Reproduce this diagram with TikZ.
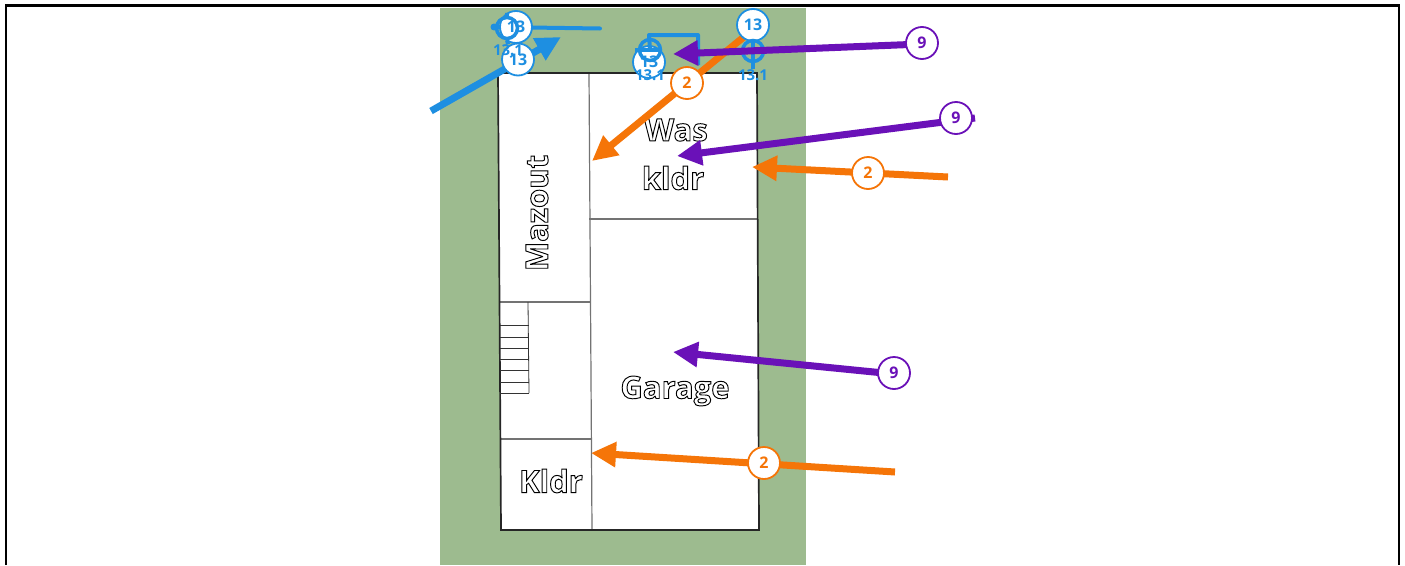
\documentclass[tikz,border=0pt]{standalone}
\usepackage{fontspec}
\setmainfont{Open Sans}
\usetikzlibrary{arrows.meta}
\definecolor{lawn}{HTML}{9DBB8F}
\definecolor{bluec}{HTML}{1E8FE1}
\definecolor{orangec}{HTML}{F57508}
\definecolor{purplec}{HTML}{6A11B8}
\newcommand{\outl}[1]{\special{pdf:code q 1 Tr 0.95 w}#1\special{pdf:code Q}}
\tikzset{
  x=1pt,y=-1pt,
  wall/.style={draw=black!55,line width=1.2pt},
  outer/.style={draw=black!85,line width=1.7pt},
  tread/.style={draw=black!80,line width=.8pt},
  room/.style={inner sep=0pt,font=\fontsize{31}{31}\selectfont\bfseries},
  badge/.style={circle,draw=#1,fill=white,text=#1,line width=1.8pt,minimum size=32pt,inner sep=0pt,font=\fontsize{16}{16}\selectfont\bfseries},
  arrowthick/.style={draw=#1,line width=7pt,-{Triangle[length=25pt,width=24pt]}},
  bluepipe/.style={draw=bluec,line width=4pt},
  symb/.style={circle,draw=bluec,line width=3.5pt,minimum size=21pt,inner sep=0pt},
  sublabel/.style={text=bluec,inner sep=0pt,font=\fontsize{15}{15}\selectfont\bfseries},
}
\begin{document}
\begin{tikzpicture}
\useasboundingbox (0,0) rectangle (1405,565);
\fill[lawn] (440,8) rectangle (806,565);
\draw[black,line width=2.8pt] (6,565) -- (6,5.5) -- (1399,5.5) -- (1399,565);
% building
\fill[white] (498,73) -- (757,73) -- (759,530) -- (501,530) -- cycle;
\draw[wall] (589,73) -- (592,530);
\draw[wall] (589,219) -- (757,219);
\draw[wall] (499,302) -- (591,302);
\draw[wall] (501,439) -- (592,439);
\draw[outer] (498,73) -- (757,73) -- (759,530) -- (501,530) -- cycle;
\draw[tread] (528,302) -- (529,393);
\foreach \y in {325,337,348,359,370,382,393} \draw[tread] (500,\y) -- (529,\y);
% rooms
\node[room,rotate=90] (mazout) at (537,213) {\outl{Mazout}};
\node[room] (was) at (676,130) {\outl{Was}};
\node[room] (kldrA) at (673,178) {\outl{kldr}};
\node[room] (garage) at (675,391) {\outl{Garage}};
\node[room] (kldrB) at (551,481) {\outl{Kldr}};
% blue items
\coordinate (pa) at (431,111);
\coordinate (pb) at (561,37);
\draw[arrowthick=bluec] (pa) -- (pb);
\coordinate (la) at (494,27);
\coordinate (lb) at (600,28.5);
\draw[bluepipe,line cap=round] (la) -- (lb);
\fill[bluec] (la) circle (3.5);
\node[badge=bluec] (b1) at (516,27) {13};
\node[symb] (c1) at (507,28) {};
\node[badge=bluec] (b2) at (518,59.5) {13};
\node[sublabel] (s1) at (508,50) {13.1};
\draw[bluepipe] (c1.north) -- ++(0,-3) (c1.south) -- (s1.north);
% middle symbol
\node[badge=bluec] (b3) at (649,62) {13};
\node[symb] (c2) at (650,50) {};
\node[sublabel] (s2) at (650,75) {13.1};
\draw[bluepipe] (c2.west) ++(-3,0) -- ++(27,0);
\coordinate (m1) at (649,35);
\coordinate (m2) at (698,35);
\coordinate (m3) at (698,65);
\draw[bluepipe,line join=round] (c2.center) -- (m1) -- (m2) -- (m3);
% orange arrows
\coordinate (oa) at (745,36);
\coordinate (ob) at (592,161);
\draw[arrowthick=orangec] (oa) -- (ob);
\coordinate (oc) at (948,177);
\coordinate (od) at (752,167);
\draw[arrowthick=orangec] (oc) -- (od);
\coordinate (oe) at (895,472);
\coordinate (of) at (591,453);
\draw[arrowthick=orangec] (oe) -- (of);
% right symbol
\node[badge=bluec] (b4) at (753,25) {13};
\node[symb] (c3) at (753,51) {};
\node[sublabel] (s3) at (753,75) {13.1};
\draw[bluepipe] (b4.south) -- (s3.north);
\draw[bluepipe] (c3.west) ++(-3,0) -- ++(27,0);
% purple arrows
\coordinate (pc) at (922,44);
\coordinate (pd) at (673,54);
\draw[arrowthick=purplec] (pc) -- (pd);
\coordinate (pe) at (975,118);
\coordinate (pf) at (677,156);
\draw[arrowthick=purplec] (pe) -- (pf);
\coordinate (pg) at (894,374);
\coordinate (ph) at (673,352);
\draw[arrowthick=purplec] (pg) -- (ph);
% badges
\node[badge=orangec] (o1) at (687,83) {2};
\node[badge=orangec] (o2) at (868,173) {2};
\node[badge=orangec] (o3) at (764,463) {2};
\node[badge=purplec] (v1) at (922,43) {9};
\node[badge=purplec] (v2) at (956,118) {9};
\node[badge=purplec] (v3) at (894,373) {9};
\end{tikzpicture}
\end{document}
